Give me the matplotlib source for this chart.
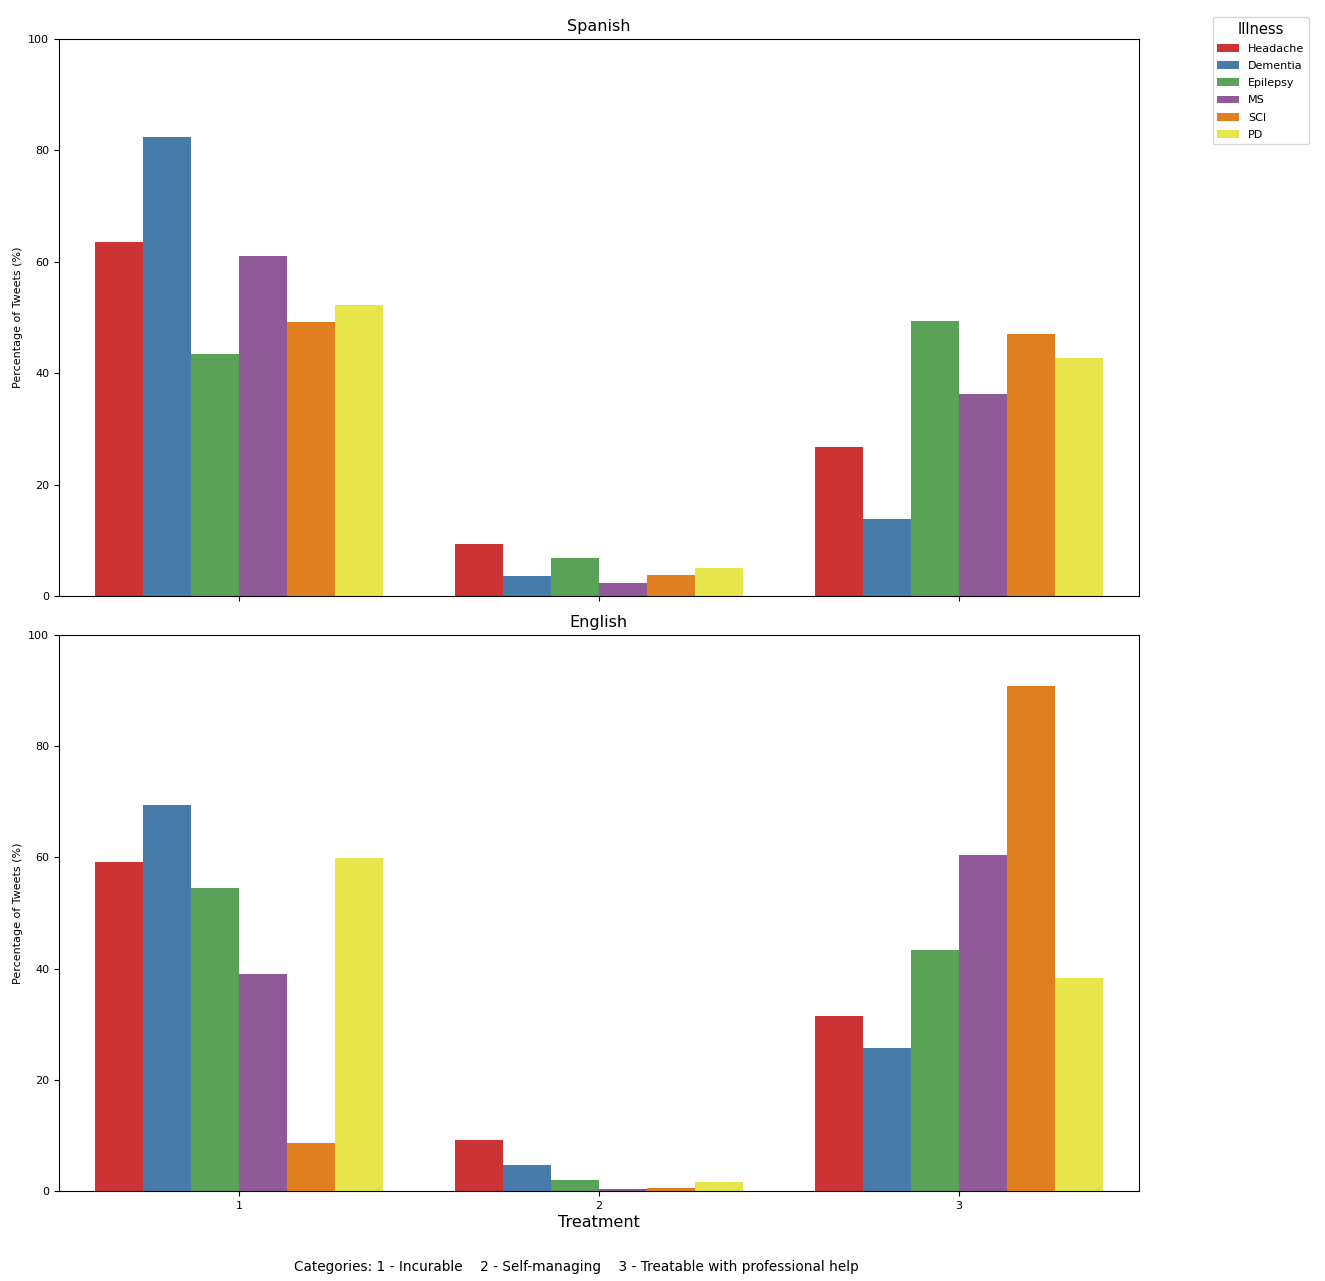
import numpy as np
import pandas as pd
import seaborn as sns
import matplotlib
matplotlib.use("Agg")
import matplotlib.pyplot as plt

# categories and values
treatments = ["1", "2", "3"]
illnesses = ["Headache", "Dementia", "Epilepsy", "MS", "SCI", "PD"]

spanish = {
    "Headache": [63.6, 9.3, 26.8],
    "Dementia": [82.4, 3.6, 13.8],
    "Epilepsy": [43.4, 6.8, 49.4],
    "MS": [61.0, 2.3, 36.3],
    "SCI": [49.2, 3.8, 47.0],
    "PD": [52.2, 5.0, 42.7],
}
english = {
    "Headache": [59.2, 9.2, 31.5],
    "Dementia": [69.4, 4.7, 25.7],
    "Epilepsy": [54.5, 2.0, 43.3],
    "MS": [39.0, 0.4, 60.4],
    "SCI": [8.6, 0.5, 90.8],
    "PD": [59.9, 1.6, 38.3],
}


def to_frame(d):
    rows = []
    for ill in illnesses:
        for t, v in zip(treatments, d[ill]):
            rows.append({"Treatment": t, "Illness": ill, "pct": v})
    return pd.DataFrame(rows)


fig = plt.figure(figsize=(13.25, 12.81), dpi=100)
ax1 = fig.add_axes([0.0445, 0.5347, 0.815, 0.4348])
ax2 = fig.add_axes([0.0445, 0.0703, 0.815, 0.434])

for ax, d, title in [(ax1, spanish, "Spanish"), (ax2, english, "English")]:
    sns.barplot(data=to_frame(d), x="Treatment", y="pct", hue="Illness",
                hue_order=illnesses, order=treatments, palette="Set1", ax=ax)
    ax.set_title(title, fontsize=11.5)
    ax.set_ylim(0, 100)
    ax.set_ylabel("Percentage of Tweets (%)", fontsize=8)
    ax.tick_params(labelsize=8)
    ax.get_legend().remove()

ax1.set_xlabel("")
ax1.set_xticklabels([])
ax2.set_xlabel("Treatment", fontsize=11.5, labelpad=3)

handles, labels = ax1.get_legend_handles_labels()
fig.legend(handles, labels, title="Illness", loc="upper right",
           bbox_to_anchor=(0.992, 0.991), fontsize=8, title_fontsize=10.5,
           labelspacing=0.65)

fig.text(0.435, 0.008, "Categories: 1 - Incurable    2 - Self-managing    3 - Treatable with professional help",
         ha="center", fontsize=9.8)

fig.savefig("out.png", dpi=100)
